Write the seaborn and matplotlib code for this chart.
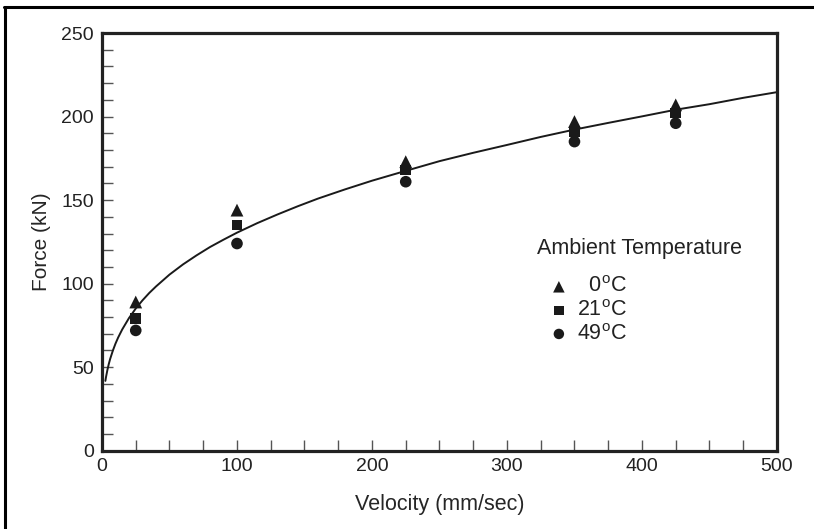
"""Force vs. velocity at three ambient temperatures, with a fitted curve."""

import matplotlib

matplotlib.use("Agg")
import matplotlib.pyplot as plt
import pandas as pd
import seaborn as sns
from matplotlib.lines import Line2D
from matplotlib.ticker import MultipleLocator

velocity = [25, 100, 225, 350, 425]
force_0c = [89, 144, 173, 197, 207]
force_21c = [79, 135, 168, 191, 202]
force_49c = [72, 124, 161, 185, 196]

# fitted curve, read at selected velocities
curve_v = [2.5, 3, 4, 5, 6, 8, 10, 12, 15, 20, 25, 30, 35, 40, 50, 60, 70,
           80, 90, 100, 115, 130, 145, 160, 180, 200, 225, 250, 275, 300,
           325, 350, 375, 400, 425, 450, 475, 500]
curve_f = [41.8, 44.2, 48.3, 51.8, 54.8, 59.8, 64.1, 67.8, 72.6, 79.4, 85.1,
           90.0, 94.4, 98.3, 105.4, 111.5, 116.9, 121.9, 126.3, 130.5, 136.2,
           141.4, 146.3, 150.9, 156.4, 161.6, 167.5, 173.3, 178.3, 183.0,
           187.8, 192.2, 196.2, 200.1, 204.1, 207.4, 211.2, 214.6]

temp_labels = ["  0$^{\\mathrm{o}}$C", "21$^{\\mathrm{o}}$C", "49$^{\\mathrm{o}}$C"]

sns.set_theme(style="white")
plt.rcParams["font.family"] = ["Liberation Sans", "DejaVu Sans"]
plt.rcParams["mathtext.fontset"] = "custom"
plt.rcParams["mathtext.rm"] = "Liberation Sans"
plt.rcParams["text.color"] = "#222222"

df = pd.DataFrame({
    "v": velocity * 3,
    "f": force_0c + force_21c + force_49c,
    "t": [temp_labels[0]] * 5 + [temp_labels[1]] * 5 + [temp_labels[2]] * 5,
})
curve = pd.DataFrame({"v": curve_v, "f": curve_f})

fig = plt.figure(figsize=(8.14, 5.29), dpi=100)
ax = fig.add_axes([0.1253, 0.148, 0.8292, 0.7896])

sns.lineplot(data=curve, x="v", y="f", color="#1a1a1a", lw=1.4, ax=ax)

markers = {temp_labels[0]: "^", temp_labels[1]: "s", temp_labels[2]: "o"}
sizes = {temp_labels[0]: 85, temp_labels[1]: 58, temp_labels[2]: 70}
for t in temp_labels:
    sub = df[df["t"] == t]
    sns.scatterplot(data=sub, x="v", y="f", marker=markers[t], s=sizes[t],
                    color="#1a1a1a", edgecolor="none", label=t, ax=ax, zorder=3)

ax.set_xlim(0, 500)
ax.set_ylim(0, 250)
ax.xaxis.set_major_locator(MultipleLocator(100))
ax.xaxis.set_minor_locator(MultipleLocator(25))
ax.yaxis.set_major_locator(MultipleLocator(50))
ax.yaxis.set_minor_locator(MultipleLocator(10))
ax.tick_params(which="both", direction="in", length=8, width=1,
               color="#555555", labelsize=14, labelcolor="#222222")
ax.tick_params(axis="x", pad=5)
ax.tick_params(axis="y", pad=6)
ax.tick_params(which="both", top=False, right=False, left=True, bottom=True)

for side in ["left", "bottom", "right", "top"]:
    ax.spines[side].set_linewidth(2.3)
    ax.spines[side].set_color("#222222")

ax.set_xlabel("Velocity (mm/sec)", fontsize=15.5, labelpad=14)
ax.set_ylabel("Force (kN)", fontsize=15, labelpad=7)

ax.text(0.645, 0.485, "Ambient Temperature", transform=ax.transAxes,
        fontsize=15.5, ha="left", va="center")
ax.legend(loc="upper left", bbox_to_anchor=(0.645, 0.443), frameon=False,
          fontsize=15.5, labelspacing=0.12, handletextpad=0.35,
          handlelength=1.0, borderpad=0.0, markerscale=0.9)

# outer frame: top and left edges only
fig.add_artist(Line2D([0.005, 1.0], [0.987, 0.987], color="black", lw=2.2,
                      transform=fig.transFigure))
fig.add_artist(Line2D([0.006, 0.006], [0.0, 0.987], color="black", lw=2.2,
                      transform=fig.transFigure))

fig.savefig("out.png", dpi=100)
plt.close(fig)
